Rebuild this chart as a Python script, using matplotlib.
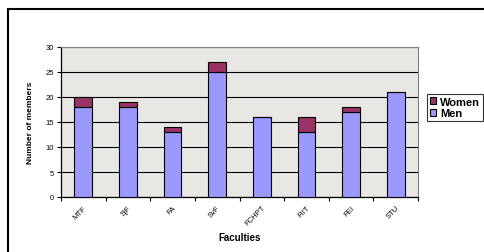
import matplotlib.pyplot as plt
import numpy as np
from matplotlib.patches import Rectangle

faculties = ["MTF", "SjF", "FA", "SvF", "FCHPT", "FIIT", "FEI", "STU"]
men = [18, 18, 13, 25, 16, 13, 17, 21]
women = [2, 1, 1, 2, 0, 3, 1, 0]

plt.rcParams['font.family'] = ['Liberation Sans', 'DejaVu Sans']

fig = plt.figure(figsize=(4.84, 2.53), dpi=100)
fig.patches.append(Rectangle((8 / 484, -0.1), 1.2, 1 - 10 / 253 + 0.1,
                             transform=fig.transFigure, fill=False,
                             edgecolor='black', linewidth=1.5))
ax = fig.add_axes([61 / 484, 1 - 198 / 253, 357 / 484, 150 / 253])
ax.set_facecolor('#e9e7e3')

x = np.arange(len(faculties))
ax.bar(x, men, width=0.4, color='#9999ff', edgecolor='black', linewidth=0.8,
       label='Men', zorder=3)
ax.bar(x, women, width=0.4, bottom=men, color='#993366', edgecolor='black',
       linewidth=0.8, label='Women', zorder=3)

ax.set_xlim(-0.5, len(faculties) - 0.5)
ax.set_ylim(0, 30)
ax.set_yticks(range(0, 31, 5))
ax.yaxis.grid(True, color='black', linewidth=0.8, zorder=1)
ax.tick_params(axis='y', labelsize=5.5, length=3, width=0.8, pad=2)

ax.set_xticks(np.arange(-0.5, len(faculties), 1))
ax.set_xticklabels([])
ax.tick_params(axis='x', which='major', length=3, width=0.8)
ax.set_xticks(x, minor=True)
ax.set_xticklabels(faculties, minor=True, rotation=45, ha='right',
                   rotation_mode='anchor', fontsize=5.5)
ax.tick_params(axis='x', which='minor', length=0, pad=5)

for s in ['top', 'right']:
    ax.spines[s].set_color('#808080')
for s in ['left', 'bottom']:
    ax.spines[s].set_linewidth(0.9)

ax.set_ylabel('Number of members', fontsize=6, fontweight='bold', labelpad=8)
ax.set_xlabel('Faculties', fontsize=7, fontweight='bold', labelpad=4)

h, l = ax.get_legend_handles_labels()
leg = fig.legend(h[::-1], l[::-1], loc='upper left',
                 bbox_to_anchor=(427 / 484, 1 - 95 / 253),
                 prop={'size': 8, 'weight': 'bold'}, frameon=True,
                 fancybox=False, edgecolor='black', handlelength=0.6,
                 handleheight=0.6, handletextpad=0.3, borderpad=0.25,
                 labelspacing=0.15, borderaxespad=0)
leg.get_frame().set_linewidth(0.8)

plt.savefig('out.png', dpi=100)
